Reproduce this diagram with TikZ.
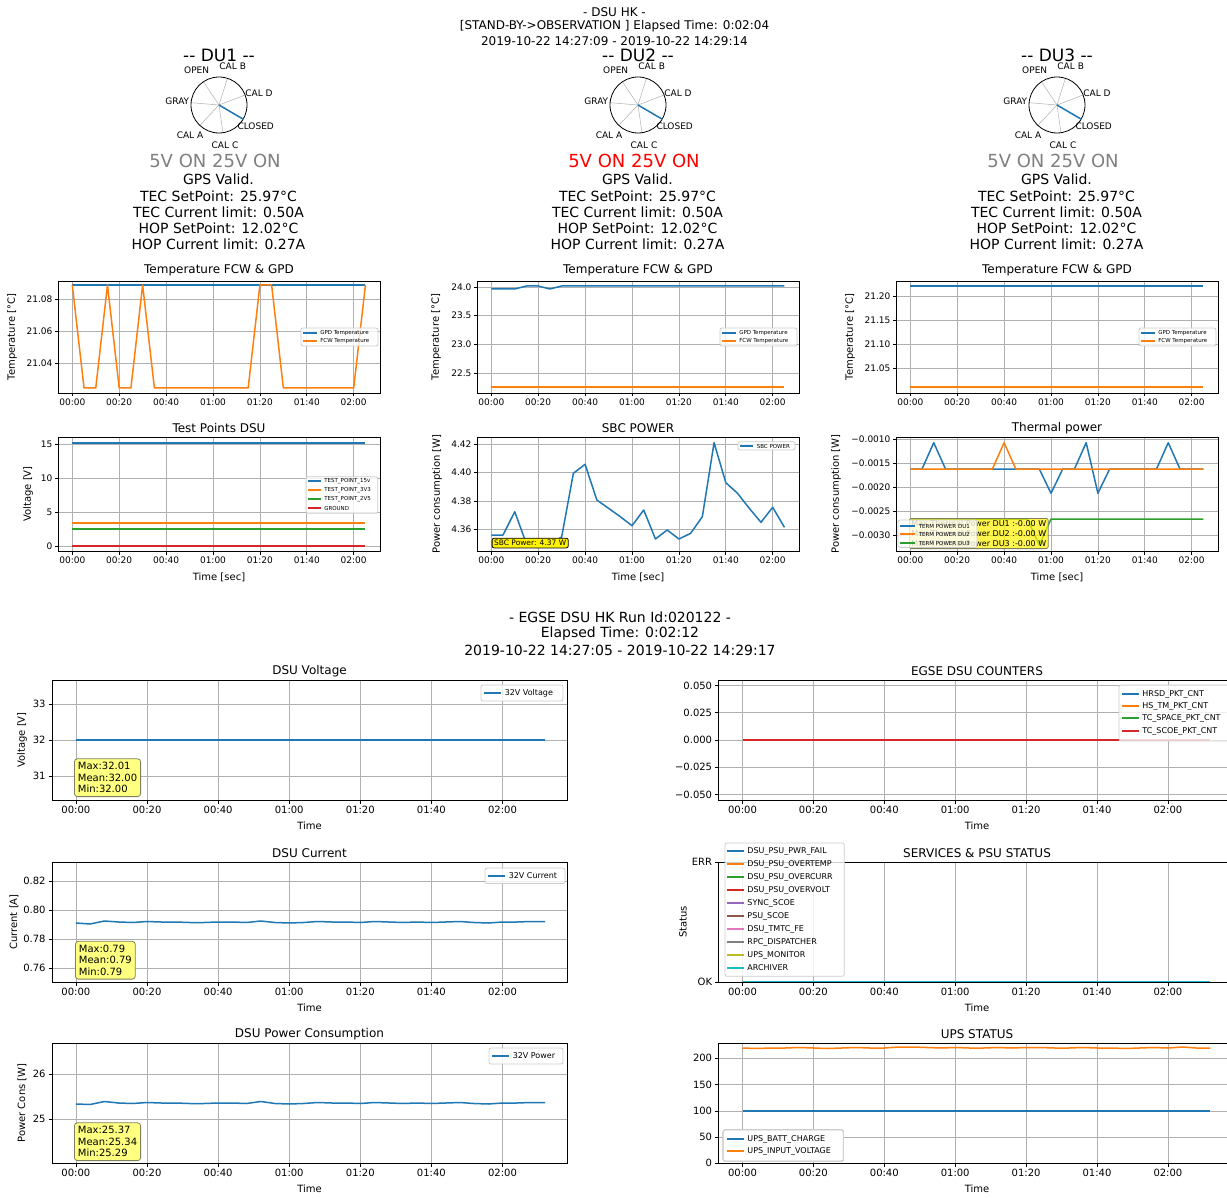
\documentclass[tikz,border=0pt]{standalone}
\usepackage{fontspec}
\setmainfont{DejaVu Sans}[Ligatures=TeXOff]
\usetikzlibrary{positioning}

% matplotlib colour cycle
\definecolor{cA}{HTML}{1F77B4}
\definecolor{cB}{HTML}{FF7F0E}
\definecolor{cC}{HTML}{2CA02C}
\definecolor{cD}{HTML}{D62728}
\definecolor{cE}{HTML}{9467BD}
\definecolor{cF}{HTML}{8C564B}
\definecolor{cG}{HTML}{E377C2}
\definecolor{cH}{HTML}{7F7F7F}
\definecolor{cI}{HTML}{BCBD22}
\definecolor{cJ}{HTML}{17BECF}
\definecolor{gridgray}{HTML}{B0B0B0}
\definecolor{legedge}{HTML}{CCCCCC}
\definecolor{statfill}{HTML}{FFFF80}
\definecolor{statedge}{HTML}{80805A}

\newcommand{\pxfont}[1]{\fontsize{#1}{#1}\selectfont}

\tikzset{
  axbox/.style={draw=black, line width=0.8pt},
  gridln/.style={draw=gridgray, line width=0.8pt},
  tickln/.style={draw=black, line width=0.8pt},
  ticklab/.style={font=\pxfont{9}, inner sep=2pt},
  bigticklab/.style={font=\pxfont{10}, inner sep=2.5pt},
  dline/.style={line width=1.5pt, line join=round},
  hdr/.style={font=\pxfont{12}},
  subhdr/.style={font=\pxfont{14}},
  dutitle/.style={font=\pxfont{17}},
  volt/.style={font=\pxfont{18}},
  info/.style={font=\pxfont{14}, anchor=base},
  pollab/.style={font=\pxfont{9}, inner sep=0pt},
  spoke/.style={draw=gridgray, line width=0.5pt},
  polrim/.style={draw=black, line width=0.8pt},
  ptitle/.style={font=\pxfont{12}},
  axlab/.style={font=\pxfont{10}},
  ylab/.style={font=\pxfont{10}, rotate=90},
  legbox/.style={draw=legedge, fill=white, fill opacity=0.8, rounded corners=2pt, line width=0.8pt},
  statbox/.style={draw=statedge, fill=statfill, rounded corners=3pt, line width=0.8pt,
    font={\fontsize{10}{11.6}\selectfont}, align=left, inner sep=3.5pt},
  sbcbox/.style={draw=black, fill=yellow, rounded corners=2pt, line width=0.8pt,
    font=\pxfont{7.5}, inner sep=2pt},
  thermbox/.style={draw=statedge, fill=yellow, fill opacity=0.7, text opacity=1, rounded corners=2pt,
    line width=0.8pt, font={\fontsize{8}{10}\selectfont}, align=left, inner sep=2pt},
}

% time axis: x of 00:00, step, top, bottom, label style
\newcommand{\timeticks}[5]{%
  \foreach \lab [count=\i from 0] in {00:00,00:20,00:40,01:00,01:20,01:40,02:00}{
    \draw[gridln] ({#1+#2*\i},#3) -- ({#1+#2*\i},#4);
    \draw[tickln] ({#1+#2*\i},#4) -- ++(0,3.5) node[below,#5] (xt\i) {\lab};
  }}
% value axis: left, right, list y/label, label style
\newcommand{\valticks}[4]{%
  \foreach \yy/\lab in {#3}{
    \draw[gridln] (#1,\yy) -- (#2,\yy);
    \draw[tickln] (#1,\yy) -- ++(-3.5,0) node[left,#4] (yt) {\lab};
  }}
% legend row: x, y, handle length, colour, text
\newcommand{\legrow}[5]{%
  \draw[#4, line width=1.5pt] (#1,#2) -- ++(#3,0) node[right=3pt, inner sep=0pt, text=black] {#5};}

\begin{document}
\begin{tikzpicture}[x=1pt,y=-1pt]
\useasboundingbox (0,0) rectangle (1227,1198);
\fill[white] (0,0) rectangle (1227,1198);

% ---------------- DSU HK header
\node[hdr] (hdrA) at (614.5,12) {- DSU HK -};
\node[hdr] (hdrB) at (614.5,26.5) {[STAND-BY->OBSERVATION ] Elapsed Time: 0:02:04};
\node[hdr] (hdrC) at (614.5,41) {2019-10-22 14:27:09 - 2019-10-22 14:29:14};

% ---------------- detector units
\foreach \dx/\du/\vc/\yx in {0/DU1/gray/12,419/DU2/red/436,838/DU3/gray/850}{
  \coordinate (pc\du) at ({219+\dx},105);
  \foreach \k in {0,...,6}
    \draw[spoke] (pc\du) -- ++({-21-51.43*\k}:28);
  \draw[polrim] (pc\du) circle[radius=28pt];
  \draw[cA,dline] (pc\du) -- ++(30.4:28);
  \foreach \px/\py/\pl in {-22.3/-35/OPEN,13.7/-38.3/CAL B,40/-11.7/CAL D,-41.7/-4/GRAY,
                           36.7/21/CLOSED,-29/30/CAL A,6/40.7/CAL C}
    \path (pc\du) ++(\px,\py) node[pollab] {\pl};
  \node[dutitle] (ttl\du) at ({219+\dx},55) {-- \du\ --};
  \node[volt, text=\vc] (pw\du) at ({215+\dx},161) {5V ON 25V ON};
  \node[info] (gps\du) at ({218.5+\dx},185) {GPS Valid.};
  \node[info] (tsp\du) at ({218.5+\dx},201.25) {TEC SetPoint: 25.97°C};
  \node[info] (tcl\du) at ({218.5+\dx},217.5) {TEC Current limit: 0.50A};
  \node[info] (hsp\du) at ({218.5+\dx},233.75) {HOP SetPoint: 12.02°C};
  \node[info] (hcl\du) at ({218.5+\dx},250) {HOP Current limit: 0.27A};

  % common parts of the small plots
  \node[ptitle] (tt\du) at ({219+\dx},270) {Temperature FCW \& GPD};
  \timeticks{72.3+\dx}{46.9}{281}{393}{ticklab}
  \timeticks{72.3+\dx}{46.9}{437}{551}{ticklab}
  \node[axlab] (xl\du) at ({219+\dx},577) {Time [sec]};
  \node[ylab] (yl\du) at (\yx,337) {Temperature [°C]};
}
\node[ptitle] (ttA) at (219,428) {Test Points DSU};
\node[ptitle] (ttB) at (638,428) {SBC POWER};
\node[ptitle] (ttC) at (1057,428) {Thermal power};
\node[ylab] (ylA) at (28,494) {Voltage [V]};
\node[ylab] (ylB) at (437,494) {Power consumption [W]};
\node[ylab] (ylC) at (836,494) {Power consumption [W]};

\valticks{58.3}{380}{299/21.08,331/21.06,363/21.04}{ticklab}
\valticks{477.3}{799}{287/24.0,315.7/23.5,344.4/23.0,373.1/22.5}{ticklab}
\valticks{896.3}{1218}{296/21.20,320/21.15,344/21.10,368/21.05}{ticklab}
\valticks{58.3}{380}{444.3/15,478.3/10,512.3/5,546.3/0}{ticklab}
\valticks{477.3}{799}{444/4.42,472.5/4.40,501/4.38,529.5/4.36}{ticklab}
\valticks{896.3}{1218}{439.3/−0.0010,463.3/−0.0015,487.3/−0.0020,511.2/−0.0025,535.1/−0.0030}{ticklab}

% temperatures
\begin{scope}[shift={(72.3,0)}, x=11.725pt]
  \draw[cA,dline] (0,285) -- (25,285);
  \draw[cB,dline] (0,285) -- (1,388) -- (2,388) -- (3,285) -- (4,388) -- (5,388) -- (6,285)
    -- (7,388) -- (15,388) -- (16,285) -- (17,285) -- (18,388) -- (24,388) -- (25,285);
  % test points
  \draw[cA,dline] (0,443) -- (25,443);
  \draw[cB,dline] (0,523) -- (25,523);
  \draw[cC,dline] (0,529) -- (25,529);
  \draw[cD,dline] (0,546) -- (25,546);
\end{scope}
\begin{scope}[shift={(491.3,0)}, x=11.725pt]
  \draw[cA,dline] (0,289) -- (2,289) -- (3,286) -- (4,286) -- (5,289) -- (6,286) -- (25,286);
  \draw[cB,dline] (0,387) -- (25,387);
  % sbc power
  \draw[cA,dline] (0,535) \foreach \yy [count=\k] in {535,511.7,544,544,544,537,473.3,464.3,500,508.3,
    516.7,525.7,510,539,530,539,533.3,516.7,442.7,482.7,493.3,508.3,522.3,507.3,527.3} { -- (\k,\yy) };
\end{scope}
\begin{scope}[shift={(910.3,0)}, x=11.725pt]
  \draw[cA,dline] (0,286) -- (25,286);
  \draw[cB,dline] (0,387) -- (25,387);
  % thermal power
  \draw[cA,dline] (0,469) -- (1,469) -- (2,442.7) -- (3,469) -- (11,469) -- (12,493.3)
    -- (13,469) -- (14,469) -- (15,442.7) -- (16,493.3) -- (17,469) -- (21,469)
    -- (22,442.7) -- (23,469) -- (25,469);
  \draw[cB,dline] (0,469) -- (7,469) -- (8,442.7) -- (9,469) -- (25,469);
  \draw[cC,dline] (0,519) -- (10,519) -- (11,545) -- (12,519) -- (25,519);
\end{scope}

\node[sbcbox, anchor=south west] (sbcb) at (491.7,548.3) {SBC Power: 4.37 W};
\node[thermbox, anchor=south west] (thb) at (909,549)
  {Max Thermal Power DU1 :-0.00 W\\Max Thermal Power DU2 :-0.00 W\\Max Thermal Power DU3 :-0.00 W};

\foreach \dx in {0,419,838}{
  \draw[axbox] ({58.3+\dx},281) rectangle ({380+\dx},393);
  \draw[axbox] ({58.3+\dx},437) rectangle ({380+\dx},551);
}

\begin{scope}[font=\pxfont{5.5}]
  \foreach \dx in {0,419,838}{
    \draw[legbox] ({301+\dx},328) rectangle ({378+\dx},346);
    \legrow{302.5+\dx}{333}{14}{cA}{GPD Temperature}
    \legrow{302.5+\dx}{341}{14}{cB}{FCW Temperature}
  }
  \draw[legbox] (306,476.7) rectangle (377.7,513.3);
  \legrow{307.5}{481}{13}{cA}{TEST\_POINT\_15v}
  \legrow{307.5}{490}{13}{cB}{TEST\_POINT\_3V3}
  \legrow{307.5}{499}{13}{cC}{TEST\_POINT\_2V5}
  \legrow{307.5}{508}{13}{cD}{GROUND}
  \draw[legbox] (738,441.7) rectangle (795,450);
  \legrow{740}{446}{13}{cA}{SBC POWER}
  \draw[legbox] (898,520) rectangle (977,547.5);
  \legrow{900}{526}{15}{cA}{TERM POWER DU1}
  \legrow{900}{534}{15}{cB}{TERM POWER DU2}
  \legrow{900}{543}{15}{cC}{TERM POWER DU3}
\end{scope}

% ---------------- EGSE DSU HK
\node[subhdr] (ehA) at (620,617) {- EGSE DSU HK Run Id:020122 -};
\node[subhdr] (ehB) at (620,633.5) {Elapsed Time: 0:02:12};
\node[subhdr] (ehC) at (620,650) {2019-10-22 14:27:05 - 2019-10-22 14:29:17};

\foreach \tp/\bt/\ll/\rl in {680/800/DSU Voltage/EGSE DSU COUNTERS,
    862/982/DSU Current/SERVICES \& PSU STATUS,1043/1163/DSU Power Consumption/UPS STATUS}{
  \node[ptitle] (lt\tp) at (309.5,\tp-9) {\ll};
  \node[ptitle] (rt\tp) at (977,\tp-9) {\rl};
  \timeticks{75.9}{71.1}{\tp}{\bt}{bigticklab}
  \timeticks{742.5}{70.9}{\tp}{\bt}{bigticklab}
  \node[axlab] (lx\tp) at (309.5,\bt+26) {Time};
  \node[axlab] (rx\tp) at (977,\bt+26) {Time};
}
\node[ylab] (ylV) at (22,740) {Voltage [V]};
\node[ylab] (ylI) at (14,922) {Current [A]};
\node[ylab] (ylP) at (22,1103) {Power Cons [W]};
\node[ylab] (ylS) at (683,922) {Status};

\valticks{52}{567}{704/33,740/32,776/31}{bigticklab}
\valticks{52}{567}{881/0.82,910/0.80,939/0.78,968/0.76}{bigticklab}
\valticks{52}{567}{1074/26,1119/25}{bigticklab}
\valticks{718.5}{1240}{685.5/0.050,712.7/0.025,740/0.000,767.3/−0.025,794.5/−0.050}{bigticklab}
\valticks{718.5}{1240}{862/ERR,982/OK}{bigticklab}
\valticks{718.5}{1240}{1058/200,1084.5/150,1111/100,1137/50,1163/0}{bigticklab}

\begin{scope}[shift={(75.9,0)}, x=3.555pt]
  \draw[cA,dline] (0,740) -- (132,740);
  \draw[cA,dline] (0,923) \foreach \yy [count=\k] in {924,921,922,922.5,921.5,922,922,922.5,922.5,922,922,
    922.5,921,922.5,923,922.5,921.5,922,922,922.5,921.5,922,922.5,922,922.5,922,921.5,922.5,923,922,
    922,921.5,921.5} { -- ({4*\k},\yy) };
  \draw[cA,dline] (0,1104) \foreach \yy [count=\k] in {1104.5,1101.5,1103,1103.5,1102.5,1103,1103,1103.5,
    1103.5,1103,1103,1103.5,1101.5,1103.5,1104,1103.5,1102.5,1103,1103,1103.5,1102.5,1103,1103.5,1103,
    1103.5,1103,1102.5,1103.5,1104,1103,1103,1102.5,1102.5} { -- ({4*\k},\yy) };
\end{scope}
\begin{scope}[shift={(742.5,0)}, x=3.545pt]
  \draw[cA,dline] (0,740) -- (132,740);
  \draw[cB,dline] (0,740) -- (132,740);
  \draw[cC,dline] (0,740) -- (132,740);
  \draw[cD,dline] (0,740) -- (132,740);
  \foreach \cc in {cA,cB,cC,cD,cE,cF,cG,cH,cI,cJ}
    \draw[\cc,dline] (0,982) -- (132,982);
  \draw[cA,dline] (0,1111) -- (132,1111);
  \draw[cB,dline] (0,1048) \foreach \yy [count=\k] in {1048.5,1048,1048,1047.5,1048,1048.5,1048,1047.5,1048,
    1048,1047,1047,1047.5,1048,1047.5,1048,1048,1047.5,1048,1047.5,1047.5,1048,1048,1047.5,1048,1048,
    1048.5,1048,1047.5,1048,1047,1048,1048} { -- ({4*\k},\yy) };
\end{scope}

\foreach \tp/\bt in {680/800,862/982,1043/1163}{
  \draw[axbox] (52,\tp) rectangle (567,\bt);
  \draw[axbox] (718.5,\tp) rectangle (1234,\bt);
}

\node[statbox, anchor=south west] (stV) at (74,797) {Max:32.01\\Mean:32.00\\Min:32.00};
\node[statbox, anchor=south west] (stI) at (75,979.5) {Max:0.79\\Mean:0.79\\Min:0.79};
\node[statbox, anchor=south west] (stP) at (74,1161) {Max:25.37\\Mean:25.34\\Min:25.29};

\begin{scope}[font=\pxfont{8}]
  \draw[legbox] (481,685) rectangle (563,701);
  \legrow{484}{693}{17}{cA}{32V Voltage}
  \draw[legbox] (485,868) rectangle (565,883.5);
  \legrow{488}{876}{17}{cA}{32V Current}
  \draw[legbox] (489,1048) rectangle (563,1064);
  \legrow{492}{1056}{17}{cA}{32V Power}
  \draw[legbox] (1119,685) rectangle (1240,741);
  \legrow{1121.7}{694}{17}{cA}{HRSD\_PKT\_CNT}
  \legrow{1121.7}{706}{17}{cB}{HS\_TM\_PKT\_CNT}
  \legrow{1121.7}{718}{17}{cC}{TC\_SPACE\_PKT\_CNT}
  \legrow{1121.7}{731}{17}{cD}{TC\_SCOE\_PKT\_CNT}
  \draw[legbox] (725,843) rectangle (844.3,976.3);
  \foreach \cc/\nm [count=\j from 0] in {cA/DSU\_PSU\_PWR\_FAIL,cB/DSU\_PSU\_OVERTEMP,
      cC/DSU\_PSU\_OVERCURR,cD/DSU\_PSU\_OVERVOLT,cE/SYNC\_SCOE,cF/PSU\_SCOE,cG/DSU\_TMTC\_FE,
      cH/RPC\_DISPATCHER,cI/UPS\_MONITOR,cJ/ARCHIVER}
    \legrow{726.7}{851+13*\j}{17}{\cc}{\nm}
  \draw[legbox] (723.3,1130) rectangle (843.3,1161);
  \legrow{726.7}{1139}{17}{cA}{UPS\_BATT\_CHARGE}
  \legrow{726.7}{1151}{17}{cB}{UPS\_INPUT\_VOLTAGE}
\end{scope}
\end{tikzpicture}
\end{document}
